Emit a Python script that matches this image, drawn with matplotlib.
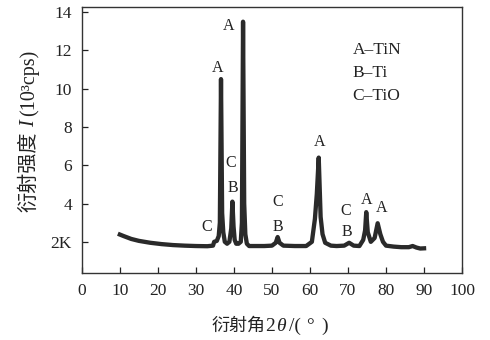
import matplotlib
matplotlib.use("Agg")
import matplotlib.pyplot as plt
from matplotlib.transforms import IdentityTransform

FONTS = ['Liberation Serif', 'Noto Sans CJK SC']
plt.rcParams['font.family'] = FONTS

# XRD pattern
two_theta = [10, 11, 13, 15, 18, 21, 24, 27, 30, 33, 34.5, 34.8, 35.5, 36.0, 36.3, 36.6,
             36.9, 37.2, 37.6, 38.2, 38.8, 39.3, 39.6, 39.9, 40.2, 40.6, 41.2, 41.8, 42.1,
             42.4, 42.7, 43.0, 43.4, 44, 46, 48, 50, 51, 51.5, 52, 53, 56, 59, 60.5, 61.3,
             61.8, 62.3, 62.8, 63.3, 64, 65.5, 67, 69, 70.3, 71.5, 73, 74, 74.5, 74.8,
             75.2, 76, 77, 77.8, 78.5, 79.2, 80, 82, 84, 86, 87, 88, 89, 90]
intensity = [2.38, 2.3, 2.15, 2.05, 1.95, 1.88, 1.83, 1.8, 1.78, 1.77, 1.8, 2.0, 2.05, 2.3,
             3.0, 10.5, 3.5, 2.5, 2.0, 1.9, 2.0, 2.7, 4.1, 2.8, 2.1, 1.9, 1.9, 2.0, 3.0,
             13.5, 4.0, 2.4, 1.9, 1.78, 1.78, 1.78, 1.8, 1.95, 2.25, 1.95, 1.8, 1.78, 1.78,
             2.0, 3.2, 4.5, 6.4, 3.3, 2.4, 1.95, 1.8, 1.78, 1.8, 1.95, 1.8, 1.78, 2.1, 2.6,
             3.55, 2.5, 2.0, 2.2, 2.97, 2.4, 2.0, 1.8, 1.75, 1.72, 1.72, 1.78, 1.7, 1.65, 1.66]

# peak labels
peak_text = ['A', 'A', 'C', 'C', 'B', 'C', 'B', 'A', 'C', 'B', 'A', 'A']
peak_x = [38.6, 35.6, 32.9, 39.2, 39.7, 51.6, 51.6, 62.6, 69.5, 69.8, 75.0, 78.9]
peak_y = [13.3, 11.1, 2.8, 6.1, 4.8, 4.1, 2.8, 7.2, 3.6, 2.5, 4.2, 3.75]

phase_names = ['A\u2013TiN', 'B\u2013Ti', 'C\u2013TiO']

xticks = [0, 10, 20, 30, 40, 50, 60, 70, 80, 90, 100]
yticks = [2, 4, 6, 8, 10, 12, 14]
ytick_labels = ['2K', '4', '6', '8', '10', '12', '14']

# axis titles split into pieces: (text, style, size, gap after in px)
xlabel_parts = [('衍射角', 'normal', 13, 0), ('2', 'normal', 14, 1), ('\u03b8', 'italic', 14, 3),
                ('/(', 'normal', 14, 5), ('\u00b0', 'normal', 14, 8), (')', 'normal', 14, 0)]
ylabel_parts = [('衍射强度', 'normal', 14.5, 4), ('I', 'italic', 14.5, 4),
                ('(10\u00b3cps)', 'normal', 14.5, 0)]

fig = plt.figure(figsize=(4.9, 3.4), dpi=100)
ax = fig.add_axes([0.167, 0.197, 0.776, 0.782])

ax.plot(two_theta, intensity, color='#2a2a2a', lw=3.1, solid_joinstyle='round')

for t, x, y in zip(peak_text, peak_x, peak_y):
    ax.text(x, y, t, ha='center', va='center', fontsize=11.5, color='#222222')

for i, name in enumerate(phase_names):
    ax.text(71.2, 12.0 - 1.2 * i, name, ha='left', va='center', fontsize=12.5, color='#222222')

ax.set_xlim(0, 100)
ax.set_ylim(0.37, 14.26)
ax.set_xticks(xticks)
ax.set_yticks(yticks)
ax.set_yticklabels(ytick_labels)
ax.tick_params(direction='in', length=4, width=0.9, labelsize=12.5, colors='#222222', pad=7)

for s in ax.spines.values():
    s.set_linewidth(1.0)
    s.set_color('#333333')


def chain_text(parts, center, base, vertical):
    # lay text pieces end to end (in pixels), centred on `center`
    renderer = fig.canvas.get_renderer()
    texts = []
    steps = []
    for s, style, size, gap in parts:
        t = fig.text(0, 0, s, transform=IdentityTransform(), fontsize=size, color='#222222',
                     fontstyle=style, family=FONTS, rotation=90 if vertical else 0,
                     rotation_mode='anchor', ha='left', va='baseline')
        bb = t.get_window_extent(renderer)
        texts.append(t)
        steps.append((bb.height if vertical else bb.width) + gap)
    pos = center - sum(steps) / 2
    for t, step in zip(texts, steps):
        t.set_position((base, pos) if vertical else (pos, base))
        pos += step


chain_text(xlabel_parts, 270, 9, vertical=False)
chain_text(ylabel_parts, 209, 34, vertical=True)

fig.savefig('out.png', dpi=100)
